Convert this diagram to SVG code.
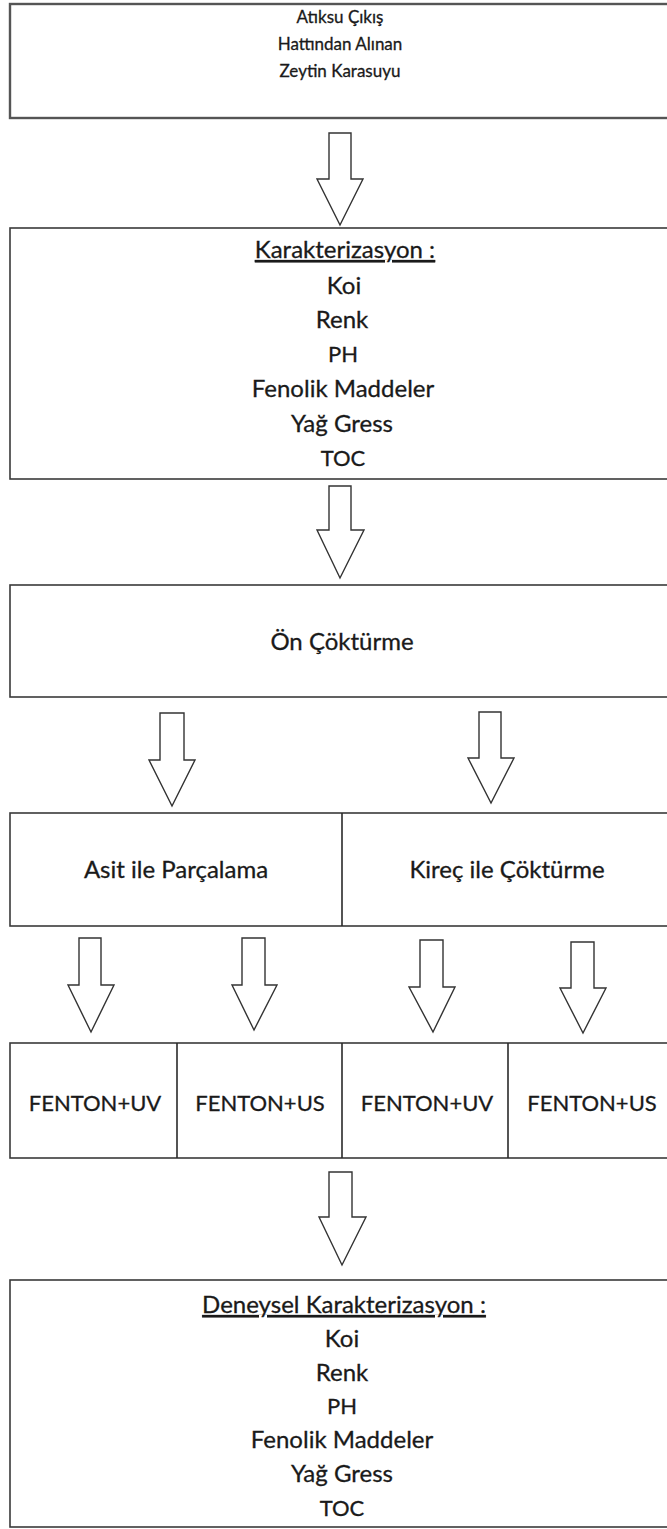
<svg xmlns="http://www.w3.org/2000/svg" width="667" height="1529" viewBox="0 0 667 1529">
<style>
.box{fill:#fff;stroke:#3a3a3a;stroke-width:1.6}
.b1{stroke:#555;stroke-width:2.4}
.div{stroke:#2a2a2a;stroke-width:1.6}
.arr{fill:#fff;stroke:#333;stroke-width:1.4;stroke-linejoin:miter}
text{font-family:Lato,"Open Sans","Liberation Sans",sans-serif;fill:#1a1a1a;stroke:#1a1a1a;stroke-width:0.3;text-anchor:middle}
.t1{font-size:17px}
.t2{font-size:24px}
.tc{font-size:22px}
.u{text-decoration:underline}
</style>
<rect width="667" height="1529" fill="#fff"/>
<g id="connectors">
<polygon class="arr" points="329,133 351,133 351,179 363,179 340,225 317,179 329,179"/>
<polygon class="arr" points="329,486 351,486 351,530 364,530 340,578 317,530 329,530"/>
<polygon class="arr" points="160,713 184,713 184,760 195,760 172,806 149,760 160,760"/>
<polygon class="arr" points="479,712 501,712 501,758 514,758 491,803 468,758 479,758"/>
<polygon class="arr" points="79,938 101,938 101,985 114,985 91,1032 68,985 79,985"/>
<polygon class="arr" points="242,938 265,938 265,985 277,985 254,1030 232,985 242,985"/>
<polygon class="arr" points="420,940 443,940 443,987 455,987 433,1032 409,987 420,987"/>
<polygon class="arr" points="571,942 594,942 594,988 606,988 583,1033 560,988 571,988"/>
<polygon class="arr" points="329,1172 352,1172 352,1217 366,1217 342,1265 319,1217 329,1217"/>
</g>
<g id="n1">
<rect class="box b1" x="10" y="4" width="670" height="114"/>
<text class="t1" x="340" y="23">Atıksu Çıkış</text>
<text class="t1" x="340" y="50">Hattından Alınan</text>
<text class="t1" x="340" y="77">Zeytin Karasuyu</text>
</g>
<g id="n2">
<rect class="box" x="10" y="228" width="670" height="251"/>
<text class="t2 u" x="345" y="258">Karakterizasyon :</text>
<text class="t2" x="344" y="294">Koi</text>
<text class="t2" x="342" y="328">Renk</text>
<text class="tc" x="343" y="362">PH</text>
<text class="t2" x="343" y="397">Fenolik Maddeler</text>
<text class="t2" x="342" y="432">Yağ Gress</text>
<text class="tc" x="343" y="466">TOC</text>
</g>
<g id="n3">
<rect class="box" x="10" y="585" width="670" height="112"/>
<text class="t2" x="342" y="650">Ön Çöktürme</text>
</g>
<g id="n4">
<rect class="box" x="10" y="813" width="670" height="113"/>
<line class="div" x1="342" y1="813" x2="342" y2="926"/>
<text class="t2" x="176" y="878">Asit ile Parçalama</text>
<text class="t2" x="507" y="878">Kireç ile Çöktürme</text>
</g>
<g id="n5">
<rect class="box" x="10" y="1043" width="670" height="115"/>
<line class="div" x1="177" y1="1043" x2="177" y2="1158"/>
<line class="div" x1="342" y1="1043" x2="342" y2="1158"/>
<line class="div" x1="508" y1="1043" x2="508" y2="1158"/>
<text class="tc" x="95" y="1111">FENTON+UV</text>
<text class="tc" x="260" y="1111">FENTON+US</text>
<text class="tc" x="427" y="1111">FENTON+UV</text>
<text class="tc" x="592" y="1111">FENTON+US</text>
</g>
<g id="n6">
<rect class="box" x="10" y="1280" width="670" height="247"/>
<text class="t2 u" x="344" y="1313">Deneysel Karakterizasyon :</text>
<text class="t2" x="342" y="1347">Koi</text>
<text class="t2" x="342" y="1381">Renk</text>
<text class="tc" x="342" y="1414">PH</text>
<text class="t2" x="342" y="1448">Fenolik Maddeler</text>
<text class="t2" x="342" y="1482">Yağ Gress</text>
<text class="tc" x="342" y="1516">TOC</text>
</g>
</svg>
